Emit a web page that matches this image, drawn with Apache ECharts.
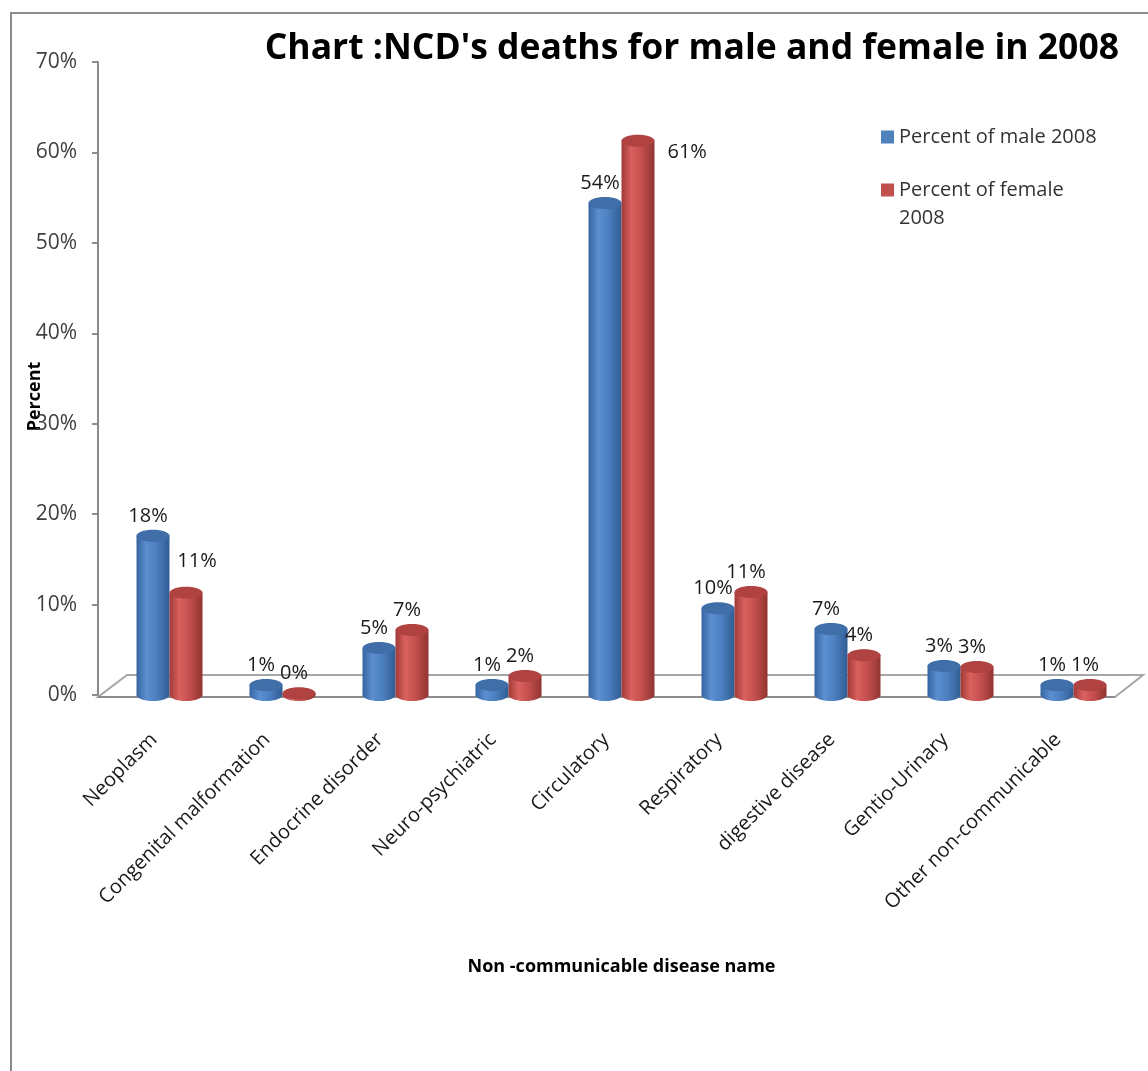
<!DOCTYPE html>
<html>
<head>
<meta charset="utf-8">
<script src="https://cdn.jsdelivr.net/npm/echarts@6/dist/echarts.min.js"></script>
<style>
  html, body { margin: 0; padding: 0; background: #ffffff; }
  #chart { width: 1148px; height: 1071px; }
</style>
</head>
<body>
<div id="chart"></div>
<script>
// ---- data ----
const categories = ['Neoplasm', 'Congenital malformation', 'Endocrine disorder', 'Neuro-psychiatric', 'Circulatory', 'Respiratory', 'digestive disease', 'Gentio-Urinary', 'Other non-communicable'];
const maleValues = [17.6, 1.1, 5.2, 1.1, 54.4, 9.6, 7.3, 3.2, 1.1];
const femaleValues = [11.3, 0.2, 7.2, 2.1, 61.3, 11.4, 4.4, 3.1, 1.1];
const seriesNames = ['Percent of male 2008', 'Percent of female 2008'];
const yTicks = [0, 10, 20, 30, 40, 50, 60, 70];
const titleText = "Chart :NCD's deaths for male and female in 2008";
const xAxisTitle = 'Non -communicable disease name';
const yAxisTitle = 'Percent';

// ---- styling ----
const FONT = "'Open Sans', 'Noto Sans', sans-serif";
const BAR_W = 33;
const ELL_H = 12;
const blueBody = new echarts.graphic.LinearGradient(0, 0, 1, 0, [
  { offset: 0, color: '#36649f' },
  { offset: 0.3, color: '#5b8fd0' },
  { offset: 0.6, color: '#4c80c0' },
  { offset: 1, color: '#315c93' }
]);
const redBody = new echarts.graphic.LinearGradient(0, 0, 1, 0, [
  { offset: 0, color: '#a03a37' },
  { offset: 0.3, color: '#d9615e' },
  { offset: 0.6, color: '#c4504d' },
  { offset: 1, color: '#923431' }
]);
const blueTop = '#3f6ea9';
const redTop = '#b04341';

const chart = echarts.init(document.getElementById('chart'), null, { renderer: 'canvas' });

function labelFmt(p) { return Math.round(p.value) + '%'; }

const femaleData = femaleValues.map((v, i) => {
  if (i === 0) return { value: v, label: { offset: [11, -12] } };
  if (i === 4) return { value: v, label: { position: [51, 2] } };
  return v;
});

function ellipseSeries(values, sideSign, top, body) {
  return {
    type: 'custom',
    name: seriesNames[sideSign < 0 ? 0 : 1],
    silent: true,
    z: 3,
    data: values.map((v, i) => [i, v]),
    renderItem: function (params, api) {
      const pTop = api.coord([api.value(0), api.value(1)]);
      const pBase = api.coord([api.value(0), 0]);
      const cx = pTop[0] + sideSign * BAR_W / 2;
      return {
        type: 'group',
        children: [
          { type: 'ellipse', shape: { cx: cx, cy: pBase[1], rx: BAR_W / 2, ry: ELL_H / 2 }, style: { fill: body } },
          { type: 'ellipse', shape: { cx: cx, cy: pTop[1], rx: BAR_W / 2, ry: ELL_H / 2 }, style: { fill: top } }
        ]
      };
    }
  };
}

const option = {
  backgroundColor: '#ffffff',
  animation: false,
  textStyle: { fontFamily: FONT },
  title: {
    text: titleText,
    right: 24,
    top: 26,
    textStyle: { fontFamily: FONT, fontSize: 35.5, fontWeight: 'bold', color: '#000000' }
  },
  legend: {
    orient: 'vertical',
    left: 881,
    top: 123,
    padding: 0,
    itemGap: -3,
    itemWidth: 13,
    itemHeight: 13,
    icon: 'rect',
    textStyle: { fontFamily: FONT, fontSize: 20, color: '#333333', lineHeight: 28 },
    data: [
      { name: seriesNames[0], itemStyle: { color: '#4f81bd' } },
      { name: seriesNames[1], itemStyle: { color: '#c0504d' } }
    ],
    formatter: function (name) {
      return name === seriesNames[1] ? '\nPercent of female\n2008' : name;
    }
  },
  grid: { left: 113, right: 18, top: 62, bottom: 376, containLabel: false },
  xAxis: {
    type: 'category',
    data: categories,
    name: xAxisTitle,
    nameLocation: 'middle',
    nameGap: 263,
    nameMoveOverlap: false,
    nameTextStyle: { fontFamily: FONT, fontSize: 18, fontWeight: 'bold', color: '#000000' },
    axisLine: { show: false },
    axisTick: { show: false },
    axisLabel: {
      rotate: 45,
      margin: 26,
      padding: [0, 22, 0, 0],
      fontFamily: FONT,
      fontSize: 20,
      color: '#1a1a1a',
      interval: 0
    }
  },
  yAxis: {
    type: 'value',
    min: 0,
    max: 70,
    interval: 10,
    offset: 15,
    name: yAxisTitle,
    nameLocation: 'middle',
    nameRotate: 90,
    nameGap: 54,
    nameMoveOverlap: false,
    nameTextStyle: { fontFamily: FONT, fontSize: 18, fontWeight: 'bold', color: '#000000', padding: [0, 36, 0, 0] },
    splitLine: { show: false },
    axisLine: { show: true, lineStyle: { color: '#8c8c8c', width: 2 } },
    axisTick: { show: true, inside: false, length: 6, lineStyle: { color: '#8c8c8c', width: 2 } },
    axisLabel: {
      margin: 21,
      fontFamily: FONT,
      fontSize: 21,
      color: '#404040',
      formatter: function (v) { return yTicks.indexOf(v) >= 0 ? v + '%' : ''; }
    }
  },
  graphic: [
    {
      type: 'rect', z: -10, silent: true,
      shape: { x: 11, y: 13, width: 1300, height: 1300 },
      style: { fill: 'none', stroke: '#8c8c8c', lineWidth: 2 }
    },
    {
      type: 'polygon', z: -5, silent: true,
      shape: { points: [[98, 697], [1115, 697], [1143, 675], [127, 675]] },
      style: { fill: '#ffffff', stroke: '#a6a6a6', lineWidth: 2 }
    },
    {
      type: 'line', z: -4, silent: true,
      shape: { x1: 98, y1: 697, x2: 1115, y2: 697 },
      style: { stroke: '#8c8c8c', lineWidth: 2 }
    }
  ],
  series: [
    {
      type: 'bar',
      name: seriesNames[0],
      data: maleValues,
      barWidth: BAR_W,
      barGap: '0%',
      itemStyle: { color: blueBody },
      label: {
        show: true, position: 'top', distance: 10, offset: [-5, 0],
        fontFamily: FONT, fontSize: 20, color: '#1a1a1a', formatter: labelFmt
      }
    },
    {
      type: 'bar',
      name: seriesNames[1],
      data: femaleData,
      barWidth: BAR_W,
      barGap: '0%',
      itemStyle: { color: redBody },
      label: {
        show: true, position: 'top', distance: 10, offset: [-5, 0],
        fontFamily: FONT, fontSize: 20, color: '#1a1a1a', formatter: labelFmt
      }
    },
    ellipseSeries(maleValues, -1, blueTop, blueBody),
    ellipseSeries(femaleValues, 1, redTop, redBody)
  ]
};

chart.setOption(option);
</script>
</body>
</html>
